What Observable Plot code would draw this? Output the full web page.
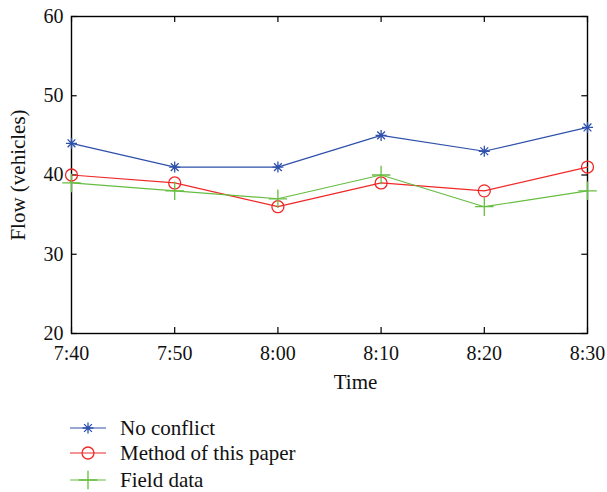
<!DOCTYPE html>
<html>
<head>
<meta charset="utf-8">
<script src="https://cdn.jsdelivr.net/npm/d3@7"></script>
<script src="https://cdn.jsdelivr.net/npm/@observablehq/plot@0.6"></script>
<style>
  body { margin: 0; background: #fff; font-family: "Liberation Serif", "DejaVu Serif", serif; }
  #legend { position: relative; height: 92px; }
  .row { position: absolute; left: 70px; display: flex; align-items: center; font-size: 21px; color: #111; }
  .row svg { margin-right: 14px; }
</style>
</head>
<body>
<div id="chart"></div>
<div id="legend"></div>
<script>
const times = ["7:40", "7:50", "8:00", "8:10", "8:20", "8:30"];
const noConflict = [44, 41, 41, 45, 43, 46];
const methodPaper = [40, 39, 36, 39, 38, 41];
const fieldData = [39, 38, 37, 40, 36, 38];
const seriesNames = ["No conflict", "Method of this paper", "Field data"];
const seriesColors = ["#2e50aa", "#f02828", "#66bd40"];
const yTicks = [20, 30, 40, 50, 60];

// 8-armed asterisk (MATLAB style "*")
const asterisk8 = {
  draw(ctx, size) {
    const r = Math.sqrt(size / Math.PI);
    for (let k = 0; k < 4; k++) {
      const a = k * Math.PI / 4;
      const dx = r * Math.cos(a), dy = r * Math.sin(a);
      ctx.moveTo(-dx, -dy); ctx.lineTo(dx, dy);
    }
  }
};
const seriesSymbols = [asterisk8, d3.symbolCircle, d3.symbolPlus];
const seriesR = [5.5, 6, 6];

const minutes = t => { const [h, m] = t.split(":").map(Number); return (h - 7) * 60 + m - 40; };
const xTicks = times.map(minutes);
const labelOf = Object.fromEntries(times.map(t => [minutes(t), t]));

const allValues = [noConflict, methodPaper, fieldData];
const rows = [];
allValues.forEach((vals, s) => vals.forEach((v, i) => rows.push({series: seriesNames[s], x: minutes(times[i]), y: v})));

const serif = "Liberation Serif";
const FS = 21;
const TFS = 20;
const lineMark = (s) => Plot.line(rows.filter(d => d.series === seriesNames[s]), {x: "x", y: "y", stroke: seriesColors[s], strokeWidth: 1.2});
const dotMark = (s) => Plot.dot(rows.filter(d => d.series === seriesNames[s]), {
  x: "x", y: "y", symbol: seriesSymbols[s], stroke: seriesColors[s], fill: "none",
  r: seriesR[s], strokeWidth: 1.3
});

const plot = Plot.plot({
  width: 607,
  height: 400,
  marginLeft: 71,
  marginRight: 20,
  marginTop: 16,
  marginBottom: 67,
  style: {fontFamily: serif, fontSize: FS + "px", background: "#fff", color: "#111"},
  x: {type: "linear", domain: [0, 50]},
  y: {domain: [20, 60]},
  marks: [
    Plot.axisY({ticks: yTicks, tickSize: 0, tickPadding: 8, label: null, fontSize: TFS, fontFamily: serif}),
    Plot.axisX({ticks: xTicks, tickSize: 0, tickPadding: 12, label: null, tickFormat: d => labelOf[d], fontSize: TFS, fontFamily: serif}),
    Plot.ruleX(xTicks, {x: d => d, y1: 20, y2: 20.75, stroke: "#000", strokeWidth: 1.2}),
    Plot.ruleX(xTicks, {x: d => d, y1: 59.25, y2: 60, stroke: "#000", strokeWidth: 1.2}),
    Plot.ruleY(yTicks, {y: d => d, x1: 0, x2: 0.55, stroke: "#000", strokeWidth: 1.2}),
    Plot.ruleY(yTicks, {y: d => d, x1: 49.45, x2: 50, stroke: "#000", strokeWidth: 1.2}),
    Plot.frame({stroke: "#000", strokeWidth: 1.4}),
    lineMark(0), lineMark(1), lineMark(2),
    dotMark(0), dotMark(1), dotMark(2),
    Plot.text(["Time"], {frameAnchor: "bottom", dy: 55, dx: 26, fontSize: FS, fontFamily: serif, fill: "#111"}),
    Plot.text(["Flow (vehicles)"], {frameAnchor: "left", textAnchor: "middle", rotate: -90, dx: -53, fontSize: FS, fontFamily: serif, fill: "#111"})
  ]
});
document.getElementById("chart").appendChild(plot);

// Legend below the chart
const legend = document.getElementById("legend");
const rowTops = [28, 53, 80];
seriesNames.forEach((name, s) => {
  const div = document.createElement("div");
  div.className = "row";
  div.style.top = (rowTops[s] - 13) + "px";
  const icon = d3.create("svg").attr("width", 36).attr("height", 26);
  icon.append("line").attr("x1", 0).attr("x2", 36).attr("y1", 13).attr("y2", 13)
    .attr("stroke", seriesColors[s]).attr("stroke-width", 1.2);
  const r = seriesR[s];
  icon.append("path").attr("transform", "translate(18,13)")
    .attr("d", d3.symbol(seriesSymbols[s], Math.PI * r * r)())
    .attr("fill", "none").attr("stroke", seriesColors[s]).attr("stroke-width", 1.3);
  div.appendChild(icon.node());
  const span = document.createElement("span");
  span.textContent = name;
  div.appendChild(span);
  legend.appendChild(div);
});
</script>
</body>
</html>
